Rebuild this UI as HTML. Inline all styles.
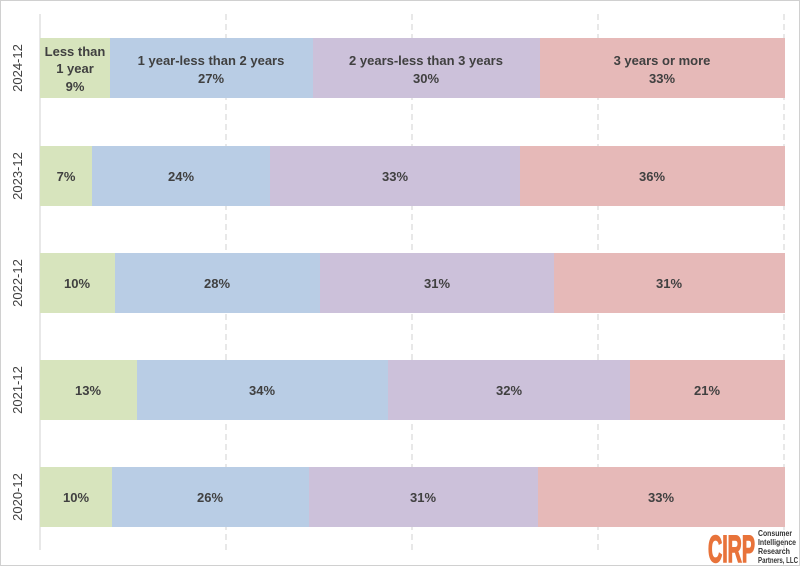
<!DOCTYPE html>
<html><head><style>
html,body{margin:0;padding:0;background:#fff;}
svg{display:block;font-family:"Liberation Sans",sans-serif;}
.t{font-size:13px;font-weight:bold;fill:#404040;text-anchor:middle;}
.y{font-size:13px;fill:#404040;text-anchor:middle;}
</style></head><body>
<svg width="800" height="566" viewBox="0 0 800 566">
<rect x="0.5" y="0.5" width="799" height="565" fill="#fff" stroke="#d0d0d0"/>
<g stroke="#d0d0d0" stroke-width="1" stroke-dasharray="6,4">
<line x1="226" y1="14" x2="226" y2="550"/>
<line x1="412" y1="14" x2="412" y2="550"/>
<line x1="598" y1="14" x2="598" y2="550"/>
<line x1="784" y1="14" x2="784" y2="550"/>
</g>
<line x1="40" y1="14" x2="40" y2="550" stroke="#d0d0d0"/>
<g>
<rect x="40" y="38" width="70" height="60" fill="#d7e4bd"/>
<rect x="110" y="38" width="203" height="60" fill="#b9cde5"/>
<rect x="313" y="38" width="227" height="60" fill="#ccc1da"/>
<rect x="540" y="38" width="245" height="60" fill="#e6b9b8"/>
<text class="t" x="75" y="56">Less than</text><text class="t" x="75" y="73">1 year</text><text class="t" x="75" y="91">9%</text>
<text class="t" x="211" y="65">1 year-less than 2 years</text><text class="t" x="211" y="83">27%</text>
<text class="t" x="426" y="65">2 years-less than 3 years</text><text class="t" x="426" y="83">30%</text>
<text class="t" x="662" y="65">3 years or more</text><text class="t" x="662" y="83">33%</text>
</g>
<g>
<rect x="40" y="146" width="52" height="60" fill="#d7e4bd"/>
<rect x="92" y="146" width="178" height="60" fill="#b9cde5"/>
<rect x="270" y="146" width="250" height="60" fill="#ccc1da"/>
<rect x="520" y="146" width="265" height="60" fill="#e6b9b8"/>
<text class="t" x="66" y="181">7%</text><text class="t" x="181" y="181">24%</text><text class="t" x="395" y="181">33%</text><text class="t" x="652" y="181">36%</text>
</g>
<g>
<rect x="40" y="253" width="75" height="60" fill="#d7e4bd"/>
<rect x="115" y="253" width="205" height="60" fill="#b9cde5"/>
<rect x="320" y="253" width="234" height="60" fill="#ccc1da"/>
<rect x="554" y="253" width="231" height="60" fill="#e6b9b8"/>
<text class="t" x="77" y="288">10%</text><text class="t" x="217" y="288">28%</text><text class="t" x="437" y="288">31%</text><text class="t" x="669" y="288">31%</text>
</g>
<g>
<rect x="40" y="360" width="97" height="60" fill="#d7e4bd"/>
<rect x="137" y="360" width="251" height="60" fill="#b9cde5"/>
<rect x="388" y="360" width="242" height="60" fill="#ccc1da"/>
<rect x="630" y="360" width="155" height="60" fill="#e6b9b8"/>
<text class="t" x="88" y="395">13%</text><text class="t" x="262" y="395">34%</text><text class="t" x="509" y="395">32%</text><text class="t" x="707" y="395">21%</text>
</g>
<g>
<rect x="40" y="467" width="72" height="60" fill="#d7e4bd"/>
<rect x="112" y="467" width="197" height="60" fill="#b9cde5"/>
<rect x="309" y="467" width="229" height="60" fill="#ccc1da"/>
<rect x="538" y="467" width="247" height="60" fill="#e6b9b8"/>
<text class="t" x="76" y="502">10%</text><text class="t" x="210" y="502">26%</text><text class="t" x="423" y="502">31%</text><text class="t" x="661" y="502">33%</text>
</g>
<text class="y" transform="translate(22,68) rotate(-90)">2024-12</text>
<text class="y" transform="translate(22,176) rotate(-90)">2023-12</text>
<text class="y" transform="translate(22,283) rotate(-90)">2022-12</text>
<text class="y" transform="translate(22,390) rotate(-90)">2021-12</text>
<text class="y" transform="translate(22,497) rotate(-90)">2020-12</text>
<text x="708" y="562" font-size="38" font-weight="bold" fill="#e8733a" textLength="47" lengthAdjust="spacingAndGlyphs" stroke="#e8733a" stroke-width="1.5">CIRP</text>
<g font-size="8" font-weight="bold" fill="#333">
<text x="758" y="536" textLength="34" lengthAdjust="spacingAndGlyphs">Consumer</text>
<text x="758" y="545" textLength="38" lengthAdjust="spacingAndGlyphs">Intelligence</text>
<text x="758" y="554" textLength="32" lengthAdjust="spacingAndGlyphs">Research</text>
<text x="758" y="563" textLength="40" lengthAdjust="spacingAndGlyphs">Partners, LLC</text>
</g>
</svg>
</body></html>
